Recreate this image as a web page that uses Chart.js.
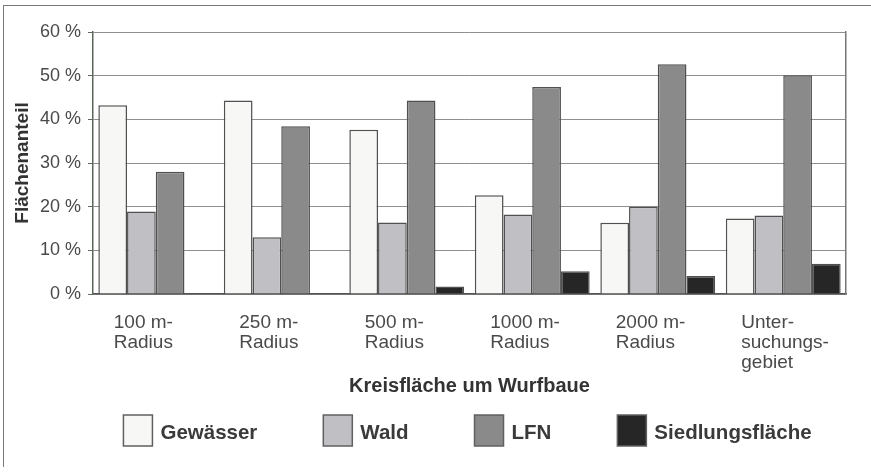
<!DOCTYPE html>
<html>
<head>
<meta charset="utf-8">
<script src="https://cdn.jsdelivr.net/npm/chart.js@4.4.1/dist/chart.umd.min.js"></script>
<style>
  html, body { margin: 0; padding: 0; background: #fff; }
  #wrap { position: relative; width: 871px; height: 474px; overflow: hidden; }
  #frame { position: absolute; left: 3px; top: 5px; width: 900px; height: 461px;
           border-top: 1.5px solid #7a7a7a; border-left: 1.5px solid #7a7a7a; }
  canvas { position: absolute; left: 0; top: 0; }
</style>
</head>
<body>
<div id="wrap">
  <div id="frame"></div>
  <canvas id="c" width="871" height="474"></canvas>
</div>
<script>
// ---- data ----
const categories = [
  ['100 m-', 'Radius'],
  ['250 m-', 'Radius'],
  ['500 m-', 'Radius'],
  ['1000 m-', 'Radius'],
  ['2000 m-', 'Radius'],
  ['Unter-', 'suchungs-', 'gebiet']
];
const seriesNames = ['Gewässer', 'Wald', 'LFN', 'Siedlungsfläche'];
const gewaesser = [43.2, 44.3, 37.6, 22.6, 16.3, 17.3];
const wald      = [18.9, 13.0, 16.4, 18.2, 20.0, 18.0];
const lfn       = [28.0, 38.4, 44.3, 47.4, 52.6, 50.1];
const siedlung  = [0, 0, 1.7, 5.2, 4.1, 6.9];
const yTicks = [0, 10, 20, 30, 40, 50, 60];
const yTitle = 'Flächenanteil';
const xTitle = 'Kreisfläche um Wurfbaue';

const fills = ['#f7f8f6', '#c0c0c4', '#8a8a8a', '#262626'];
const FONT = '"Liberation Sans", Arial, Helvetica, sans-serif';

const seriesValues = [gewaesser, wald, lfn, siedlung];
const datasets = seriesNames.map((name, i) => ({
  label: name,
  data: seriesValues[i],
  backgroundColor: fills[i],
  borderColor: '#505050',
  borderWidth: 1.5,
  categoryPercentage: 0.915,
  barPercentage: 1.0
}));

// custom legend drawn from the datasets (big boxes, wide spacing)
const boxLegend = {
  id: 'boxLegend',
  afterDraw(chart) {
    const ctx = chart.ctx;
    const ds = chart.data.datasets;
    const boxW = 29, boxH = 31, textGap = 8, gap = 66;
    ctx.save();
    ctx.font = 'bold 20.5px ' + FONT;
    const widths = ds.map(d => boxW + textGap + ctx.measureText(d.label).width);
    const total = widths.reduce((a, b) => a + b, 0) + gap * (ds.length - 1);
    const ca = chart.chartArea;
    let x = (ca.left + ca.right) / 2 - 2 - total / 2;
    const y = ca.bottom + 121;
    ds.forEach((d, i) => {
      ctx.fillStyle = d.backgroundColor;
      ctx.fillRect(x, y, boxW, boxH);
      ctx.lineWidth = 1.5;
      ctx.strokeStyle = '#606060';
      ctx.strokeRect(x, y, boxW, boxH);
      ctx.fillStyle = '#3a3a3a';
      ctx.textAlign = 'left';
      ctx.textBaseline = 'middle';
      ctx.fillText(d.label, x + boxW + textGap, y + boxH / 2 + 3);
      x += widths[i] + gap;
    });
    ctx.restore();
  }
};

new Chart(document.getElementById('c'), {
  type: 'bar',
  data: { labels: categories, datasets: datasets },
  options: {
    responsive: false,
    animation: false,
    devicePixelRatio: 1,
    layout: { padding: { left: 8, right: 25, top: 32, bottom: 0 } },
    plugins: {
      legend: { display: false },
      tooltip: { enabled: false },
      title: { display: false }
    },
    scales: {
      x: {
        type: 'category',
        grid: { display: false, drawTicks: false },
        border: { display: true, color: '#555', width: 1.5 },
        ticks: {
          color: '#4a4a4a',
          font: { family: FONT, size: 19, lineHeight: 1.05 },
          padding: 19,
          align: 'start',
          labelOffset: -42,
          maxRotation: 0,
          minRotation: 0,
          autoSkip: false
        },
        title: {
          display: true,
          text: xTitle,
          color: '#333',
          font: { family: FONT, size: 20, weight: 'bold' },
          padding: { top: 0, bottom: 76 }
        },
        afterFit(s) { s.height = 180; s.paddingLeft = 0; s.paddingRight = 0; }
      },
      y: {
        min: 0,
        max: 60,
        afterBuildTicks(s) { s.ticks = yTicks.map(v => ({ value: v })); },
        grid: { color: '#8f8f8f', lineWidth: 1, drawTicks: true, tickLength: 5, tickColor: '#666' },
        border: { display: true, color: '#5a665a', width: 1.5 },
        ticks: {
          color: '#4a4a4a',
          font: { family: FONT, size: 18 },
          padding: 7,
          callback: v => v + ' %'
        },
        title: {
          display: true,
          text: yTitle,
          color: '#333',
          font: { family: FONT, size: 19, weight: 'bold' },
          padding: { top: 3, bottom: 0 }
        },
        afterFit(s) { s.width = 85; s.paddingTop = 0; s.paddingBottom = 0; }
      },
      y2: {
        position: 'right',
        min: 0,
        max: 60,
        grid: { display: false, drawTicks: false },
        ticks: { display: false },
        border: { display: true, color: '#777', width: 1.5 },
        afterFit(s) { s.width = 0; s.paddingTop = 0; s.paddingBottom = 0; }
      }
    }
  },
  plugins: [boxLegend]
});
</script>
</body>
</html>
